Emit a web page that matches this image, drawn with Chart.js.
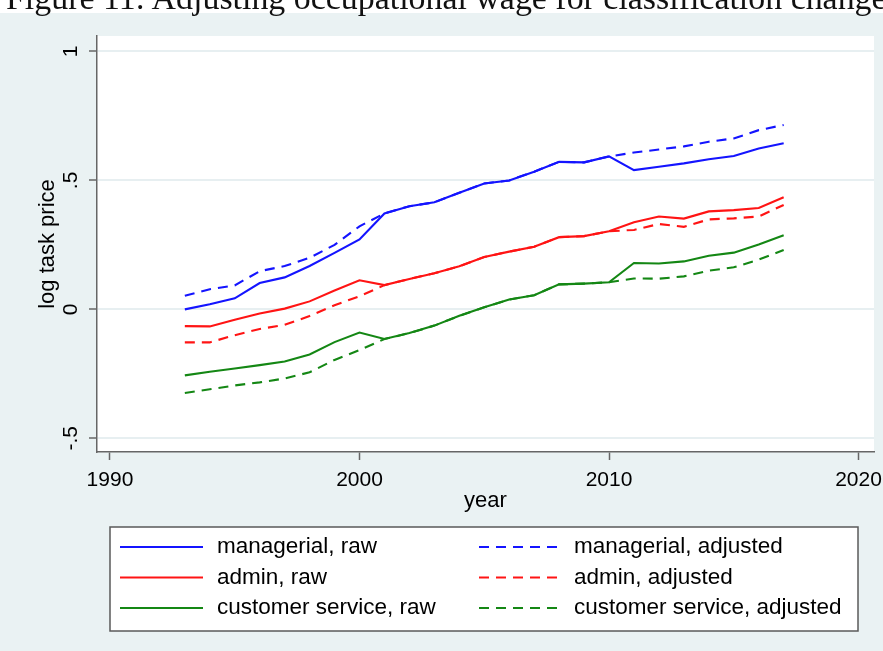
<!DOCTYPE html>
<html>
<head>
<meta charset="utf-8">
<script src="https://cdn.jsdelivr.net/npm/chart.js@4/dist/chart.umd.min.js"></script>
<style>
  html, body { margin: 0; padding: 0; background: #ffffff; }
  #wrap { position: relative; width: 883px; height: 651px; overflow: hidden; }
  #fig { position: absolute; left: 0; top: 0; }
  #caption {
    position: absolute; left: 6px; top: -17px; white-space: nowrap;
    font-family: "Liberation Serif", "DejaVu Serif", serif; font-size: 30px;
    line-height: 1; color: #111; z-index: 2;
  }
</style>
</head>
<body>
<div id="wrap">
  <canvas id="fig" width="883" height="651"></canvas>
  <div id="caption">Figure 11: Adjusting occupational wage for classification change</div>
</div>
<script>
// Survey years
const years = [1993, 1994, 1995, 1996, 1997, 1998, 1999, 2000, 2001, 2002, 2003, 2004, 2005,
               2006, 2007, 2008, 2009, 2010, 2011, 2012, 2013, 2014, 2015, 2016, 2017];

// Log task prices by occupation group
const managerialRaw = [0.000, 0.020, 0.043, 0.102, 0.124, 0.168, 0.219, 0.271, 0.372, 0.400, 0.415, 0.452, 0.488,
                       0.500, 0.534, 0.572, 0.570, 0.593, 0.540, 0.553, 0.566, 0.582, 0.595, 0.624, 0.644];
const managerialAdj = [0.053, 0.078, 0.093, 0.148, 0.168, 0.200, 0.250, 0.322, 0.372, 0.400, 0.415, 0.452, 0.488,
                       0.500, 0.534, 0.572, 0.570, 0.593, 0.608, 0.620, 0.632, 0.650, 0.663, 0.695, 0.715];
const adminRaw      = [-0.065, -0.066, -0.040, -0.016, 0.003, 0.031, 0.073, 0.113, 0.094, 0.118, 0.140, 0.167, 0.203,
                       0.224, 0.243, 0.280, 0.284, 0.303, 0.338, 0.360, 0.352, 0.380, 0.385, 0.393, 0.435];
const adminAdj      = [-0.128, -0.128, -0.100, -0.076, -0.060, -0.026, 0.016, 0.051, 0.094, 0.118, 0.140, 0.167, 0.203,
                       0.224, 0.243, 0.280, 0.284, 0.303, 0.308, 0.331, 0.320, 0.349, 0.353, 0.360, 0.405];
const custServRaw   = [-0.256, -0.242, -0.229, -0.216, -0.202, -0.175, -0.127, -0.090, -0.115, -0.092, -0.063, -0.025, 0.008,
                       0.038, 0.055, 0.097, 0.100, 0.105, 0.180, 0.178, 0.186, 0.208, 0.220, 0.252, 0.287];
const custServAdj   = [-0.324, -0.310, -0.295, -0.283, -0.268, -0.244, -0.196, -0.158, -0.115, -0.092, -0.063, -0.025, 0.008,
                       0.038, 0.055, 0.097, 0.100, 0.105, 0.120, 0.119, 0.128, 0.150, 0.163, 0.193, 0.230];

// Series names (legend order: row by row, two columns)
const seriesNames = ["managerial, raw", "managerial, adjusted", "admin, raw", "admin, adjusted",
                     "customer service, raw", "customer service, adjusted"];

// Axis ticks
const xTickValues = [1990, 2000, 2010, 2020];
const xTickLabels = ["1990", "2000", "2010", "2020"];
const yTickValues = [-0.5, 0, 0.5, 1];
const yTickLabels = ["-.5", "0", ".5", "1"];
const xTitle = "year";
const yTitle = "log task price";

// Fit the caption line across the page width
(function () {
  const cap = document.getElementById('caption');
  const w = cap.getBoundingClientRect().width;
  const size = 30 * 881 / w;
  cap.style.fontSize = size + 'px';
  cap.style.top = (9 - 0.8375 * size) + 'px';
})();

const BLUE = 'rgb(20,20,255)', RED = 'rgb(255,20,20)', GREEN = 'rgb(20,135,20)';
const DASH = [10, 7];
const SANS = '"Liberation Sans", Arial, sans-serif';

function pts(values) { return years.map((yr, i) => ({ x: yr, y: values[i] })); }

function series(label, values, color, dashed) {
  return {
    label, data: pts(values), borderColor: color, backgroundColor: color,
    borderWidth: 2.1, borderDash: dashed ? DASH : [], pointRadius: 0, tension: 0, fill: false
  };
}

const datasets = [
  series(seriesNames[0], managerialRaw, BLUE, false),
  series(seriesNames[1], managerialAdj, BLUE, true),
  series(seriesNames[2], adminRaw, RED, false),
  series(seriesNames[3], adminAdj, RED, true),
  series(seriesNames[4], custServRaw, GREEN, false),
  series(seriesNames[5], custServAdj, GREEN, true)
];

// Graph region and plot region fills
const backdrop = {
  id: 'backdrop',
  beforeDraw(chart) {
    const { ctx, chartArea: a, width, height } = chart;
    ctx.save();
    ctx.fillStyle = '#ffffff';
    ctx.fillRect(0, 0, width, 13);
    ctx.fillStyle = '#eaf2f3';
    ctx.fillRect(0, 13, width, height - 13);
    ctx.fillStyle = '#ffffff';
    ctx.fillRect(a.left, a.top, a.right - a.left, a.bottom - a.top);
    ctx.restore();
  }
};

// Boxed two-column key below the plot
const keyBox = {
  id: 'keyBox',
  afterDraw(chart) {
    const { ctx } = chart;
    const box = { x: 110, y: 527, w: 748, h: 104 };
    const rows = [547, 577.5, 608];
    const cols = [{ x0: 120, x1: 203, tx: 217 }, { x0: 479, x1: 558, tx: 574 }];
    ctx.save();
    ctx.fillStyle = '#ffffff';
    ctx.fillRect(box.x, box.y, box.w, box.h);
    ctx.strokeStyle = '#5a5a5a';
    ctx.lineWidth = 1.5;
    ctx.strokeRect(box.x, box.y, box.w, box.h);
    chart.data.datasets.forEach((ds, i) => {
      const r = rows[Math.floor(i / 2)], c = cols[i % 2];
      ctx.beginPath();
      ctx.strokeStyle = ds.borderColor;
      ctx.lineWidth = ds.borderWidth;
      ctx.setLineDash(ds.borderDash);
      ctx.moveTo(c.x0, r);
      ctx.lineTo(c.x1, r);
      ctx.stroke();
      ctx.setLineDash([]);
      ctx.fillStyle = '#000';
      ctx.font = '22.5px ' + SANS;
      ctx.textBaseline = 'middle';
      ctx.textAlign = 'left';
      ctx.fillText(ds.label, c.tx, r);
    });
    ctx.restore();
  }
};

new Chart(document.getElementById('fig'), {
  type: 'line',
  data: { datasets },
  plugins: [backdrop, keyBox],
  options: {
    responsive: false,
    animation: false,
    devicePixelRatio: 1,
    layout: { padding: { left: 0, top: 36, right: 9, bottom: 137 } },
    plugins: { legend: { display: false }, tooltip: { enabled: false } },
    scales: {
      x: {
        type: 'linear', min: 1989.48, max: 2020.62,
        afterBuildTicks(s) { s.ticks = xTickValues.map(v => ({ value: v })); },
        afterFit(s) { s.height = 62; s.paddingLeft = 0; s.paddingRight = 0; },
        ticks: {
          autoSkip: false, minRotation: 0, maxRotation: 0, padding: 8, color: '#000',
          font: { family: SANS, size: 21 },
          callback: v => xTickLabels[xTickValues.indexOf(v)]
        },
        grid: { drawOnChartArea: false, drawTicks: true, tickLength: 8, tickColor: '#666', tickWidth: 1.5 },
        border: { display: true, color: '#666', width: 1.5 },
        title: { display: true, text: xTitle, color: '#000', font: { family: SANS, size: 22 }, padding: { top: 0, bottom: 0 } }
      },
      y: {
        type: 'linear', min: -0.553, max: 1.06,
        afterBuildTicks(s) { s.ticks = yTickValues.map(v => ({ value: v })); },
        afterFit(s) { s.width = 97; s.paddingTop = 0; s.paddingBottom = 0; },
        ticks: {
          autoSkip: false, minRotation: 90, maxRotation: 90, crossAlign: 'center', padding: 6, color: '#000',
          font: { family: SANS, size: 21 },
          callback: v => yTickLabels[yTickValues.indexOf(v)]
        },
        grid: { color: '#e7eff1', lineWidth: 2, drawTicks: true, tickLength: 8, tickColor: '#666', tickWidth: 1.5 },
        border: { display: true, color: '#666', width: 1.5 },
        title: { display: true, text: yTitle, color: '#000', font: { family: SANS, size: 22 }, padding: { top: 35, bottom: 0 } }
      }
    }
  }
});
</script>
</body>
</html>
